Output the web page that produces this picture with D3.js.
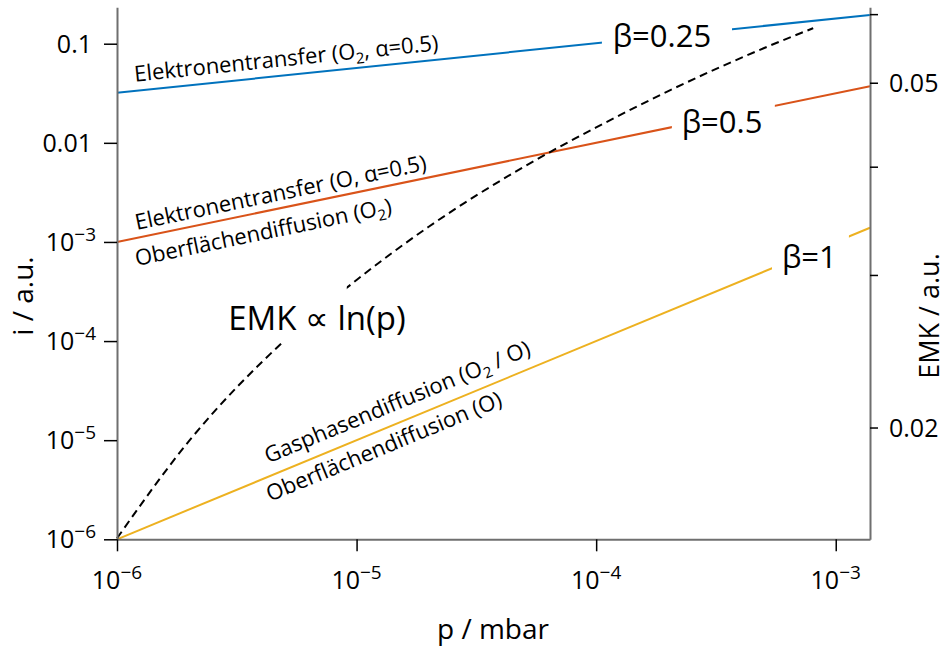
<!DOCTYPE html>
<html><head><meta charset="utf-8">
<script src="https://cdn.jsdelivr.net/npm/d3@7/dist/d3.min.js"></script>
<style>
body{margin:0;background:#fff}
text{font-family:'Open Sans',sans-serif;fill:#000}
</style>
</head><body>
<svg id="chart" width="947" height="646"></svg>
<script>
// ---------- data ----------
const pressure      = [1e-6, 1.39e-3];           // p / mbar (line end points)
const iElektronO2   = [0.032, 0.195];            // beta = 0.25
const iElektronO    = [0.001, 0.0373];           // beta = 0.5
const iGasphase     = [1e-6, 1.39e-3];           // beta = 1
const emkPressure   = [1e-6, 2e-6, 5e-6, 1e-5, 2e-5, 5e-5, 1e-4, 2e-4, 5e-4, 8.05e-4];
const emkValues     = [0.0149, 0.0193, 0.0252, 0.0296, 0.0341, 0.0400, 0.0444, 0.0489, 0.0548, 0.0578];
const xTicks        = [1e-6, 1e-5, 1e-4, 1e-3];
const xTickExp      = ["−6", "−5", "−4", "−3"];
const yTicks        = [1e-6, 1e-5, 1e-4, 1e-3, 0.01, 0.1];
const yTickBase     = ["10", "10", "10", "10", "0.01", "0.1"];
const yTickExp      = ["−6", "−5", "−4", "−3", "", ""];
const emkTicks      = [0.02, 0.03, 0.04, 0.05, 0.06];
const emkTickLabels = ["0.02", "", "", "0.05", ""];
// label gaps in the lines (pressure ranges)
const gapO2   = [1.057e-4, 3.69e-4];
const gapO    = [2.07e-4, 5.57e-4];
const gapGas  = [5.42e-4, 1.135e-3];
const gapEmk  = [4.93e-6, 9.1e-6];

// ---------- layout ----------
const L = 117, R = 870, T = 7.3, B = 539.3;
const svg = d3.select("#chart");
const x = d3.scaleLog().domain([1e-6, 1.39e-3]).range([L, R]);
const y = d3.scaleLog().domain([1e-6, 0.233]).range([B, T]);
const y2 = d3.scaleLog().domain([0.01486, 0.0611]).range([B, T]);

const axisGrey = "#6f6f6f";

// clip paths for gaps
const defs = svg.append("defs");
function gapClip(id, gap) {
  const cp = defs.append("clipPath").attr("id", id);
  cp.append("rect").attr("x", 0).attr("y", 0).attr("width", x(gap[0])).attr("height", 646);
  cp.append("rect").attr("x", x(gap[1])).attr("y", 0).attr("width", 947 - x(gap[1])).attr("height", 646);
  return "url(#" + id + ")";
}

const line = d3.line().x(d => x(d[0])).y(d => y(d[1]));
function drawSeries(vals, color, gap, id) {
  svg.append("path")
    .datum(pressure.map((p, k) => [p, vals[k]]))
    .attr("d", line)
    .attr("fill", "none").attr("stroke", color).attr("stroke-width", 2)
    .attr("clip-path", gapClip(id, gap));
}
drawSeries(iElektronO2, "#0072BD", gapO2, "c1");
drawSeries(iElektronO, "#D95319", gapO, "c2");
drawSeries(iGasphase, "#EDB120", gapGas, "c3");

const emkLine = d3.line().x(d => x(d[0])).y(d => y2(d[1])).curve(d3.curveMonotoneX);
svg.append("path")
  .datum(emkPressure.map((p, k) => [p, emkValues[k]]))
  .attr("d", emkLine)
  .attr("fill", "none").attr("stroke", "#000").attr("stroke-width", 2)
  .attr("stroke-dasharray", "8,5")
  .attr("clip-path", gapClip("c4", gapEmk));

// ---------- axes ----------
function styleAxis(g) {
  g.select(".domain").attr("stroke", axisGrey).attr("stroke-width", 2);
  g.selectAll(".tick line").attr("stroke", "#000").attr("stroke-width", 1.5);
  g.selectAll(".tick text").remove();
}
svg.append("g").attr("transform", `translate(${L},0)`)
  .call(d3.axisLeft(y).tickValues(yTicks).tickSize(13).tickSizeOuter(0).tickFormat(""))
  .call(styleAxis);
svg.append("g").attr("transform", `translate(0,${B})`)
  .call(d3.axisBottom(x).tickValues(xTicks).tickSize(12).tickSizeOuter(0).tickFormat(""))
  .call(styleAxis);
svg.append("g").attr("transform", `translate(${R},0)`)
  .call(d3.axisRight(y2).tickValues(emkTicks).tickSize(8).tickSizeOuter(0).tickFormat(""))
  .call(styleAxis);

// tick labels
const FS = 25, SUP = 19;
yTicks.forEach((v, k) => {
  const t = svg.append("text").attr("x", 92).attr("y", y(v) + 9)
    .attr("text-anchor", "end").style("font-size", FS + "px");
  if (yTickExp[k]) {
    t.attr("x", 96);
    t.append("tspan").text(yTickBase[k]);
    t.append("tspan").attr("dy", -10).style("font-size", SUP + "px").text(yTickExp[k]);
  } else {
    t.text(yTickBase[k]);
  }
});
xTicks.forEach((v, k) => {
  const t = svg.append("text").attr("x", x(v)).attr("y", 589)
    .attr("text-anchor", "middle").style("font-size", FS + "px");
  t.append("tspan").text("10");
  t.append("tspan").attr("dy", -10).style("font-size", SUP + "px").text(xTickExp[k]);
});
emkTicks.forEach((v, k) => {
  if (!emkTickLabels[k]) return;
  svg.append("text").attr("x", 889).attr("y", y2(v) + 9)
    .style("font-size", FS + "px").text(emkTickLabels[k]);
});

// axis titles
svg.append("text").attr("x", 493).attr("y", 639).attr("text-anchor", "middle")
  .style("font-size", "28px").text("p / mbar");
svg.append("text").attr("transform", "translate(33,296) rotate(-90)").attr("text-anchor", "middle")
  .style("font-size", "28px").text("i / a.u.");
svg.append("text").attr("transform", "translate(939,316) rotate(-90)").attr("text-anchor", "middle")
  .style("font-size", "27px").text("EMK / a.u.");

// ---------- annotations ----------
function angleOf(vals) {
  const dx = x(pressure[1]) - x(pressure[0]);
  const dy = y(vals[1]) - y(vals[0]);
  return Math.atan2(dy, dx) * 180 / Math.PI;
}
const AFS = 22, SUB = 15;
function rotLabel(p, i, ang, parts) {
  const t = svg.append("text")
    .attr("transform", `translate(${x(p)},${y(i)}) rotate(${ang})`)
    .style("font-size", AFS + "px");
  let prevSub = false;
  parts.forEach(([s, sub]) => {
    const ts = t.append("tspan").text(s);
    if (sub) { ts.attr("dy", 5).style("font-size", SUB + "px"); prevSub = true; }
    else if (prevSub) { ts.attr("dy", -5); prevSub = false; }
  });
}
rotLabel(1.189e-6, 0.0414, angleOf(iElektronO2), [["Elektronentransfer (O"], ["2", true], [", α=0.5)"]]);
rotLabel(1.208e-6, 1.318e-3, angleOf(iElektronO), [["Elektronentransfer (O, α=0.5)"]]);
rotLabel(1.21e-6, 5.71e-4, angleOf(iElektronO), [["Oberflächendiffusion (O"], ["2", true], [")"]]);
rotLabel(4.28e-6, 5.83e-6, angleOf(iGasphase), [["Gasphasendiffusion (O"], ["2", true], [" / O)"]]);
rotLabel(4.35e-6, 2.39e-6, angleOf(iGasphase), [["Oberflächendiffusion (O)"]]);

function bigLabel(p, i, s, size) {
  svg.append("text").attr("x", x(p)).attr("y", y(i)).style("font-size", size + "px").text(s);
}
bigLabel(1.172e-4, 0.0926, "β=0.25", 31);
bigLabel(2.275e-4, 0.01247, "β=0.5", 31);
bigLabel(5.96e-4, 5.46e-4, "β=1", 31);
bigLabel(2.91e-6, 1.29e-4, "EMK ∝ ln(p)", 33);
</script>
</body></html>
